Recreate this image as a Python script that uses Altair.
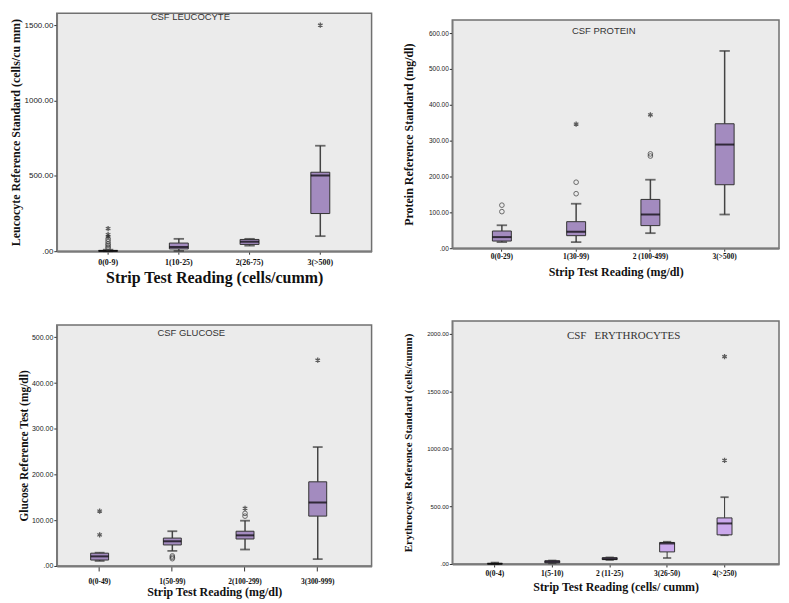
import altair as alt
import pandas as pd

STAR = "M0,-1L0,1M-0.866,-0.5L0.866,0.5M-0.866,0.5L0.866,-0.5"

# ---------------- Panel 1: CSF leucocyte ----------------
leu_cats = ["0(0-9)", "1(10-25)", "2(26-75)", "3(>500)"]
leu_lo = [0, 2, 37, 100]
leu_q1 = [0, 15, 45, 250]
leu_med = [2, 28, 63, 502]
leu_q3 = [5, 54, 78, 524]
leu_hi = [10, 82, 82, 700]
leu_out_cat = ["0(0-9)"] * 9 + ["3(>500)"]
leu_out_val = [150, 110, 95, 80, 65, 50, 40, 28, 18, 1500]
leu_out_kind = ["star", "star", "star", "circle", "circle", "circle", "circle", "circle", "circle", "star"]

# ---------------- Panel 2: CSF protein ----------------
pro_cats = ["0(0-29)", "1(30-99)", "2 (100-499)", "3(>500)"]
pro_lo = [17, 17, 42, 94]
pro_q1 = [20, 35, 63, 177]
pro_med = [31, 46, 94, 289]
pro_q3 = [48, 74, 136, 347]
pro_hi = [64, 124, 191, 550]
pro_out_cat = ["0(0-29)", "0(0-29)", "1(30-99)", "1(30-99)", "1(30-99)", "2 (100-499)", "2 (100-499)", "2 (100-499)"]
pro_out_val = [120, 102, 152, 184, 346, 263, 257, 372]
pro_out_kind = ["circle", "circle", "circle", "circle", "star", "circle", "circle", "star"]

# ---------------- Panel 3: CSF glucose ----------------
glu_cats = ["0(0-49)", "1(50-99)", "2(100-299)", "3(300-999)"]
glu_lo = [11, 33, 36, 15]
glu_q1 = [13, 46, 59, 109]
glu_med = [21, 54, 67, 139]
glu_q3 = [28, 61, 76, 184]
glu_hi = [29, 76, 99, 260]
glu_out_cat = ["0(0-49)", "0(0-49)", "1(50-99)", "1(50-99)", "1(50-99)", "2(100-299)", "2(100-299)", "2(100-299)", "3(300-999)"]
glu_out_val = [120, 68, 22, 19, 16, 115, 109, 126, 450]
glu_out_kind = ["star", "star", "circle", "circle", "circle", "circle", "circle", "star", "star"]

# ---------------- Panel 4: CSF erythrocytes ----------------
ery_cats = ["0(0-4)", "1(5-10)", "2 (11-25)", "3(26-50)", "4(>250)"]
ery_lo = [0, 6, 35, 52, 250]
ery_q1 = [0, 10, 38, 105, 253]
ery_med = [2, 20, 45, 178, 352]
ery_q3 = [5, 28, 55, 187, 400]
ery_hi = [12, 30, 57, 193, 580]
ery_out_cat = ["4(>250)", "4(>250)"]
ery_out_val = [1800, 900]
ery_out_kind = ["star", "star"]

SERIF = "Liberation Serif"
SANS = "Liberation Sans"


def panel(cats, lo, q1, med, q3, hi, out_cat, out_val, out_kind, *, ymax, yticks,
          ytitle, xtitle, title, fill, box_w, pad_outer, align, width, height,
          ylab_size, ytitle_size, ytitle_pad, xlab_size, xlab_pad, xtick,
          xtitle_size, xtitle_pad, title_font, title_size, title_dx, title_off,
          whisk_w=1.5):
    boxes = pd.DataFrame({"cat": cats, "lo": lo, "q1": q1, "med": med, "q3": q3, "hi": hi})
    outs = pd.DataFrame({"cat": out_cat, "val": out_val, "kind": out_kind})

    xs = alt.Scale(domain=cats, paddingInner=0, paddingOuter=pad_outer, align=align)
    xaxis = alt.Axis(title=xtitle, labelAngle=0, grid=False, domain=True,
                     domainColor="#7a7a7a", domainWidth=2,
                     labelFont=SERIF, labelFontWeight="bold", labelFontSize=xlab_size,
                     labelColor="#111", labelPadding=xlab_pad, tickSize=xtick,
                     tickColor="#333", titleFont=SERIF, titleFontWeight="bold",
                     titleFontSize=xtitle_size, titleColor="#111", titlePadding=xtitle_pad)
    x = alt.X("cat:N", scale=xs, axis=xaxis, sort=cats)
    ys = alt.Scale(domain=[0, ymax], nice=False, zero=True)
    yaxis = alt.Axis(title=ytitle, values=yticks, grid=False, domain=True,
                     domainColor="#7a7a7a", domainWidth=1.5,
                     labelExpr="datum.value == 0 ? '.00' : format(datum.value, '.2f')",
                     labelFont=SANS, labelFontSize=ylab_size, labelColor="#222",
                     labelPadding=1, tickSize=3, tickColor="#333",
                     titleFont=SERIF, titleFontWeight="bold", titleFontSize=ytitle_size,
                     titleColor="#111", titlePadding=ytitle_pad)

    def Y(f):
        return alt.Y(f"{f}:Q", scale=ys, axis=yaxis)

    base = alt.Chart(boxes)
    layers = [
        base.mark_rule(color="#444", strokeWidth=whisk_w).encode(x=x, y=Y("lo"), y2="q1"),
        base.mark_rule(color="#444", strokeWidth=whisk_w).encode(x=x, y=Y("q3"), y2="hi"),
        base.mark_tick(color="#333", size=box_w * 0.55, thickness=1.8).encode(x=x, y=Y("lo")),
        base.mark_tick(color="#333", size=box_w * 0.55, thickness=1.8).encode(x=x, y=Y("hi")),
        base.mark_bar(size=box_w, fill=fill, stroke="#333", strokeWidth=1).encode(x=x, y=Y("q1"), y2="q3"),
        base.mark_tick(color="#000", size=box_w, thickness=2).encode(x=x, y=Y("med")),
    ]
    circ = outs[outs["kind"] == "circle"]
    star = outs[outs["kind"] == "star"]
    if len(circ):
        layers.append(alt.Chart(circ).mark_point(shape="circle", filled=False, size=22,
                                                 color="#333", strokeWidth=1)
                      .encode(x=x, y=Y("val")))
    if len(star):
        layers.append(alt.Chart(star).mark_point(shape=STAR, filled=False, size=28,
                                                 color="#222", strokeWidth=1.3)
                      .encode(x=x, y=Y("val")))
    return alt.layer(*layers).properties(
        width=width, height=height,
        view=alt.ViewBackground(stroke="#707070", strokeWidth=1.5, fill="#ebebeb"),
        title=alt.TitleParams(text=title, font=title_font, fontSize=title_size,
                              fontWeight="normal", color="#333", anchor="middle",
                              baseline="middle", offset=title_off, dx=title_dx),
    )


def spacer(h, w):
    return alt.Chart(pd.DataFrame({"a": [0]})).mark_point(opacity=0).encode(
        x=alt.value(0), y=alt.value(0)
    ).properties(width=w, height=h,
                 view=alt.ViewBackground(strokeOpacity=0, fillOpacity=0))


p1 = panel(leu_cats, leu_lo, leu_q1, leu_med, leu_q3, leu_hi, leu_out_cat, leu_out_val, leu_out_kind,
           ymax=1580, yticks=[0, 500, 1000, 1500],
           ytitle="Leucocyte Reference Standard (cells/cu mm)",
           xtitle="Strip Test Reading (cells/cumm)", title="CSF LEUCOCYTE",
           fill="#a38bbf", box_w=19, pad_outer=0.225, align=0.5, width=316, height=239,
           ylab_size=8, ytitle_size=12, ytitle_pad=2, xlab_size=8, xlab_pad=4, xtick=3,
           xtitle_size=16, xtitle_pad=3, title_font=SANS, title_size=9.5, title_dx=-24,
           title_off=-13)

p2 = panel(pro_cats, pro_lo, pro_q1, pro_med, pro_q3, pro_hi, pro_out_cat, pro_out_val, pro_out_kind,
           ymax=636, yticks=[0, 100, 200, 300, 400, 500, 600],
           ytitle="Protein Reference Standard (mg/dl)",
           xtitle="Strip Test Reading (mg/dl)", title="CSF PROTEIN",
           fill="#a38bbf", box_w=19, pad_outer=0.2, align=0.42, width=328, height=229,
           ylab_size=6.5, ytitle_size=12, ytitle_pad=13, xlab_size=7.5, xlab_pad=1, xtick=3,
           xtitle_size=12, xtitle_pad=7, title_font=SANS, title_size=9.5, title_dx=-12,
           title_off=-20)

p3 = panel(glu_cats, glu_lo, glu_q1, glu_med, glu_q3, glu_hi, glu_out_cat, glu_out_val, glu_out_kind,
           ymax=527, yticks=[0, 100, 200, 300, 400, 500],
           ytitle="Glucose Reference Test (mg/dl)",
           xtitle="Strip Test Reading (mg/dl)", title="CSF GLUCOSE",
           fill="#a38bbf", box_w=18, pad_outer=0.165, align=0.27, width=316, height=242,
           ylab_size=7, ytitle_size=11.5, ytitle_pad=2, xlab_size=7.5, xlab_pad=7, xtick=5,
           xtitle_size=12, xtitle_pad=1, title_font=SANS, title_size=9.5, title_dx=-23,
           title_off=-18)

p4 = panel(ery_cats, ery_lo, ery_q1, ery_med, ery_q3, ery_hi, ery_out_cat, ery_out_val, ery_out_kind,
           ymax=2110, yticks=[0, 500, 1000, 1500, 2000],
           ytitle="Erythrocytes Reference Standard (cells/cumm)",
           xtitle="Strip Test Reading (cells/ cumm)", title="CSF\u00a0\u00a0\u00a0ERYTHROCYTES",
           fill="#cba9ec", box_w=15, pad_outer=0.345, align=0.35, width=328, height=244,
           ylab_size=6, ytitle_size=11, ytitle_pad=13, xlab_size=7.5, xlab_pad=3, xtick=3,
           xtitle_size=12, xtitle_pad=4, title_font=SERIF, title_size=11, title_dx=8,
           title_off=-26, whisk_w=1.1)

col1 = alt.vconcat(p1, p3, spacing=74, bounds="flush")
col2 = alt.vconcat(spacer(7, 328), p2, spacer(73, 328), p4, spacing=0, bounds="flush")

chart = alt.hconcat(col1, col2, spacing=29).properties(
    padding={"left": 0, "top": 1, "right": 1, "bottom": 0}
).configure(background="white")

chart.save("out.html", embed_options={"renderer": "svg", "actions": False})
